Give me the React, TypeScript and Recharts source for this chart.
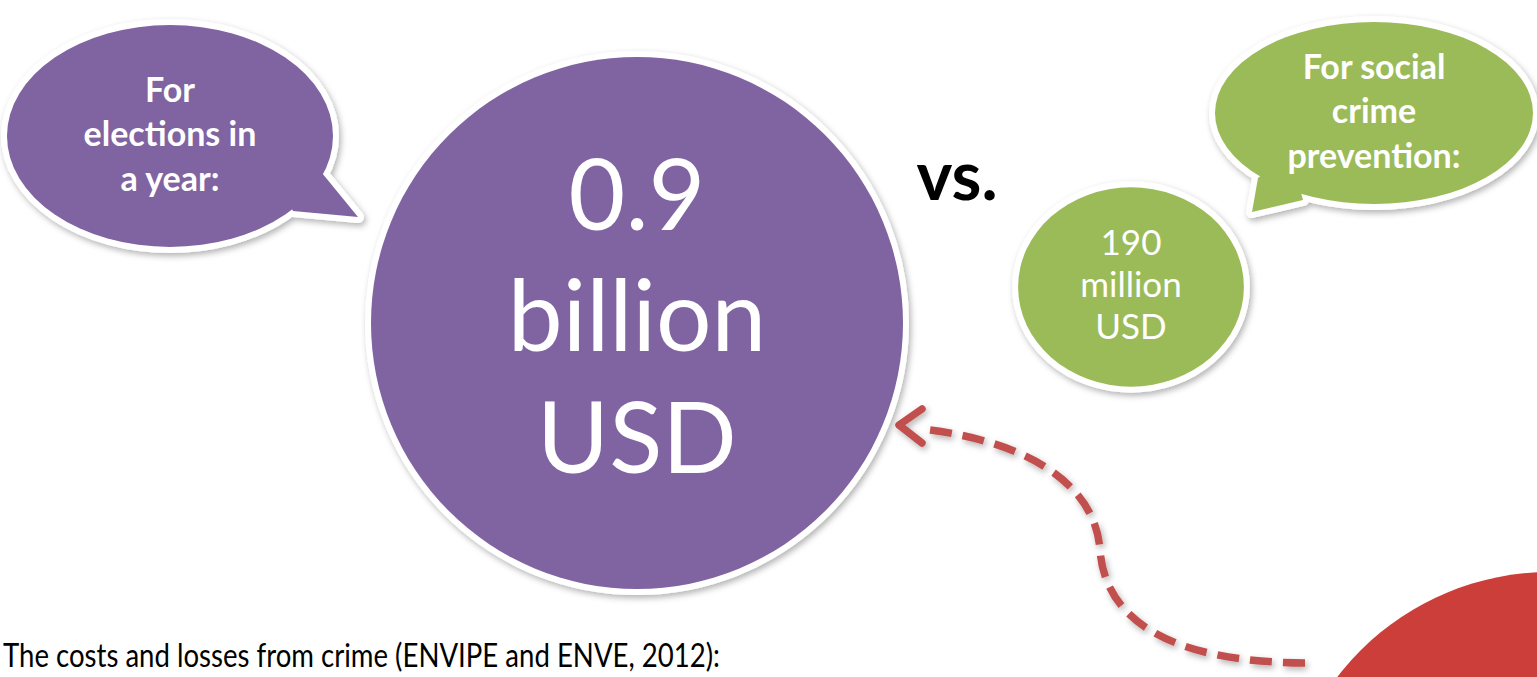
import React from 'react';
import { ScatterChart, Scatter, XAxis, YAxis, ZAxis, Customized } from 'recharts';

// what each budget is for, and the amount in million USD
const categories = ['For elections in a year:', 'For social crime prevention:'];
const calloutLines = [
  ['For', 'elections in', 'a year:'],
  ['For social', 'crime', 'prevention:'],
];
const amountsMillionUsd = [900, 190];
const amountLabels = [
  ['0.9', 'billion', 'USD'],
  ['190', 'million', 'USD'],
];
const comparisonWord = 'vs.';
const caption = 'The costs and losses from crime (ENVIPE and ENVE, 2012):';

const FONT = 'Lato, "Open Sans", sans-serif';
const W = 1537;
const H = 677;

// styling per bubble
const bubbleColors = ['#8064A2', '#9BBB59'];
const labelSizes = [98, 35];
const bubbleDrop = [18, -18];
const bubbleAspect = [
  [1, 1],
  [1.065, 0.94],
];
const calloutOffset = [
  [-467, -187],
  [243, -174],
];
const calloutRadii = [
  [163, 111],
  [159, 91],
];
const calloutTails = [
  [[152, 37], [188, 81], [123, 75], [95, 20]],
  [[-116, 65], [-122, 99], [-71, 87], [-84, 40]],
];

const chartData = categories.map((name, i) => ({
  name,
  idx: i,
  x: i,
  y: 0,
  value: amountsMillionUsd[i],
}));

const minR = 106;
const maxR = 266;

function Callout({ cx, cy, i }: { cx: number; cy: number; i: number }) {
  const [rx, ry] = calloutRadii[i];
  const pts = calloutTails[i].map(([dx, dy]) => `${cx + dx},${cy + dy}`).join(' ');
  const color = bubbleColors[i];
  const lines = calloutLines[i];
  const fs = 34;
  const lh = 44.5;
  return (
    <g>
      <g filter="url(#softShadow)">
        <ellipse cx={cx} cy={cy} rx={rx} ry={ry} fill="#fff" stroke="#fff" strokeWidth={12} />
        <polygon points={pts} fill="#fff" stroke="#fff" strokeWidth={12} strokeLinejoin="round" />
      </g>
      <ellipse cx={cx} cy={cy} rx={rx} ry={ry} fill={color} />
      <polygon points={pts} fill={color} />
      {lines.map((t, k) => (
        <text
          key={k}
          x={cx}
          y={cy + 10 + (k - 1) * lh}
          textAnchor="middle"
          fontFamily={FONT}
          fontWeight={700}
          fontSize={fs}
          fill="#fff"
        >
          {t}
        </text>
      ))}
    </g>
  );
}

function BubbleShape(props: any) {
  const { payload } = props;
  const i = payload.idx;
  const r = props.width ? props.width / 2 : Math.sqrt(props.size / Math.PI);
  const cx = props.cx;
  const cy = props.cy + bubbleDrop[i];
  const rx = r * bubbleAspect[i][0];
  const ry = r * bubbleAspect[i][1];
  const fs = labelSizes[i];
  const lh = i === 0 ? fs * 1.24 : 42;
  return (
    <g>
      <Callout cx={cx + calloutOffset[i][0]} cy={cy + calloutOffset[i][1]} i={i} />
      <ellipse
        cx={cx}
        cy={cy}
        rx={rx}
        ry={ry}
        fill={bubbleColors[i]}
        stroke="#fff"
        strokeWidth={12}
        filter="url(#softShadow)"
      />
      <ellipse cx={cx} cy={cy} rx={rx} ry={ry} fill={bubbleColors[i]} />
      {amountLabels[i].map((t, k) => (
        <text
          key={k}
          x={cx}
          y={cy + fs * 0.29 + (k - 1) * lh}
          textAnchor="middle"
          fontFamily={FONT}
          fontSize={fs}
          fill="#fff"
        >
          {t}
        </text>
      ))}
    </g>
  );
}

function Decor() {
  return (
    <g>
      <defs>
        <filter id="softShadow" x="-20%" y="-20%" width="140%" height="140%">
          <feDropShadow dx="2" dy="3" stdDeviation="3" floodColor="#000" floodOpacity="0.3" />
        </filter>
      </defs>
      <circle cx={1550} cy={840} r={268} fill="#CB3E3A" />
      <g filter="url(#softShadow)">
        <path
          d="M 1305 663 C 1170 662 1105 620 1100 550 C 1095 480 1020 440 922 429"
          fill="none"
          stroke="#C0504D"
          strokeWidth={7.5}
          strokeDasharray="22 11"
        />
        <path
          d="M 922 409 L 899 425 L 922 443"
          fill="none"
          stroke="#C0504D"
          strokeWidth={7.5}
          strokeLinecap="round"
          strokeLinejoin="round"
        />
      </g>
      <text x={957} y={200} textAnchor="middle" fontFamily={FONT} fontWeight={700} fontSize={68} fill="#000">
        {comparisonWord}
      </text>
      <text
        x={3}
        y={667}
        fontFamily={FONT}
        fontSize={33}
        fill="#000"
        textLength={717}
        lengthAdjust="spacingAndGlyphs"
      >
        {caption}
      </text>
    </g>
  );
}

export default function App() {
  return (
    <div style={{ position: 'absolute', left: 0, top: 0, width: W, height: H, background: '#fff' }}>
      <ScatterChart width={W} height={H} margin={{ top: 0, right: 159, bottom: 67, left: 390 }}>
        <XAxis type="number" dataKey="x" domain={[-0.5, 1.5]} hide />
        <YAxis type="number" dataKey="y" domain={[-1, 1]} hide />
        <ZAxis
          type="number"
          dataKey="value"
          domain={[Math.min(...amountsMillionUsd), Math.max(...amountsMillionUsd)]}
          range={[Math.PI * minR * minR, Math.PI * maxR * maxR]}
        />
        <Customized component={Decor} />
        <Scatter data={chartData} shape={BubbleShape} isAnimationActive={false} />
      </ScatterChart>
    </div>
  );
}
